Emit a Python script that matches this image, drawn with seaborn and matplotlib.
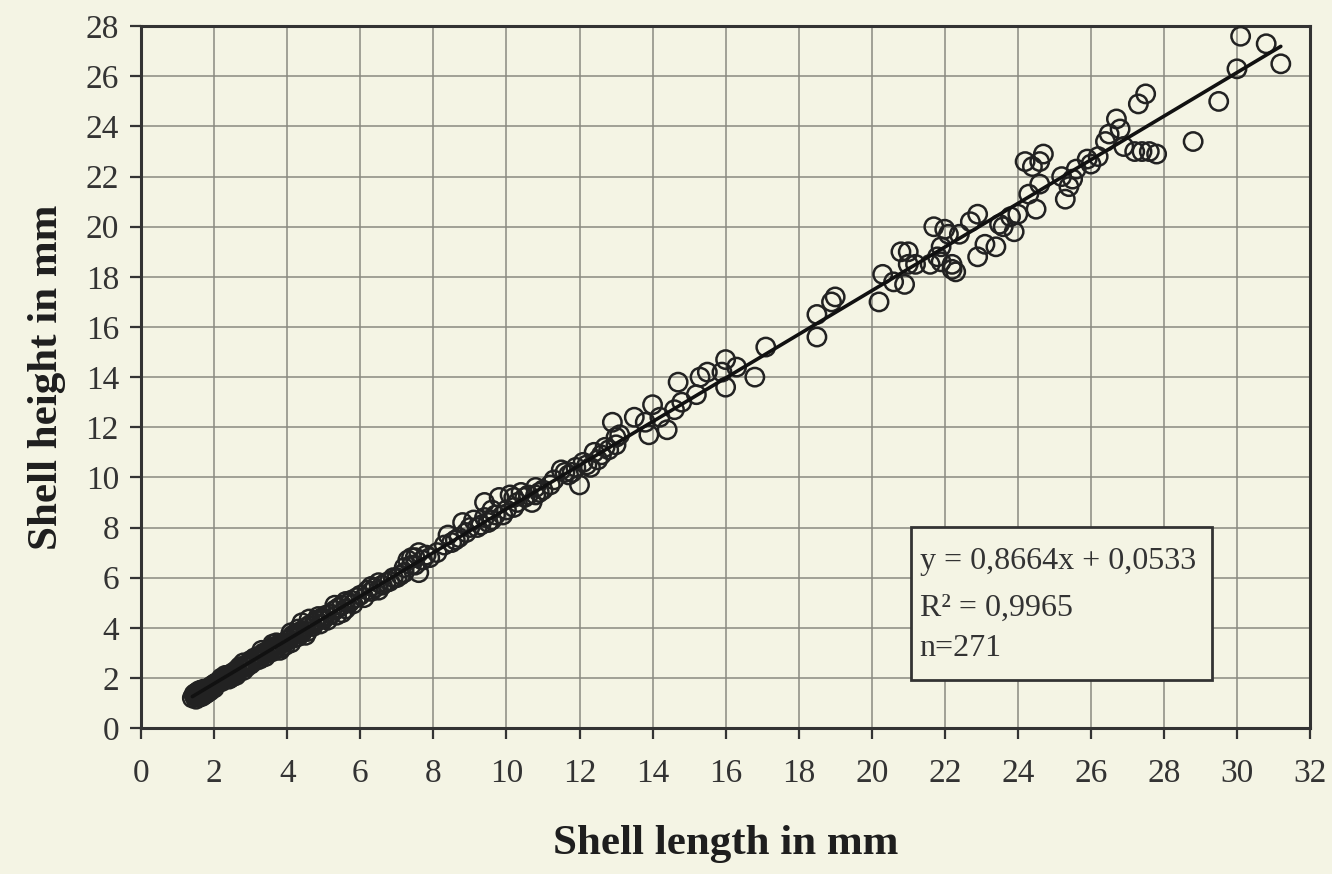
import numpy as np
import pandas as pd
import matplotlib
matplotlib.use("Agg")
import matplotlib.pyplot as plt
from matplotlib.patches import Rectangle
import seaborn as sns

# ---- data (shell length, shell height in mm) ----
length_mm = [
    # dense small shells
    1.40, 1.45, 1.50, 1.50, 1.55, 1.60, 1.60, 1.65, 1.70, 1.70, 1.75, 1.80, 1.80, 1.85, 1.90, 1.90,
    1.95, 2.00, 2.00, 2.05, 1.50, 1.55, 1.65, 1.75, 1.85, 1.45, 1.60, 1.70,
    2.10, 2.15, 2.20, 2.25, 2.30, 2.35, 2.40, 2.45, 2.50, 2.55, 2.60, 2.65, 2.70, 2.75, 2.80, 2.85,
    2.90, 2.95, 3.00, 2.20, 2.40, 2.60, 2.80, 3.00, 2.30, 2.50, 2.70,
    3.05, 3.10, 3.15, 3.20, 3.25, 3.30, 3.35, 3.40, 3.45, 3.50, 3.55, 3.60, 3.65, 3.70, 3.75, 3.80,
    3.85, 3.90, 3.95, 4.00, 3.30, 3.60, 3.80, 3.40, 3.70,
    4.05, 4.10, 4.15, 4.20, 4.25, 4.30, 4.35, 4.40, 4.50, 4.55, 4.60, 4.70, 4.75, 4.80, 4.90, 4.95,
    5.00, 4.40, 4.60, 4.30, 4.10, 4.50, 4.85,
    5.05, 5.10, 5.20, 5.30, 5.35, 5.40, 5.50, 5.60, 5.70, 5.75, 5.80, 5.90, 5.30, 5.50, 5.60,
    6.00, 6.10, 6.20, 6.30, 6.40, 6.50, 6.60, 6.70, 6.80, 6.90, 6.50, 6.30, 7.00,
    7.10, 7.20, 7.30, 7.40, 7.50, 7.60, 7.70, 7.80, 7.60, 7.40, 7.90, 7.50, 7.20,
    8.10, 8.30, 8.40, 8.50, 8.60, 8.70, 8.80, 8.90, 9.00, 9.10, 9.20, 9.30, 9.40, 9.50, 9.60,
    9.70, 9.80, 9.90, 10.00, 10.10, 10.20, 10.30, 10.40, 10.50, 10.60, 10.70, 10.80, 10.90,
    11.00, 11.20, 10.20, 10.80, 9.60, 9.40,
    11.30, 11.50, 11.60, 11.70, 11.80, 11.90, 12.00, 12.10, 12.20, 12.30, 12.40, 12.50, 12.60,
    12.70, 12.80, 12.90, 13.00, 13.00, 13.10,
    # mid-sized shells
    13.50, 13.80, 13.90, 14.00, 14.20, 14.40, 14.60, 14.70, 14.80, 15.20, 15.30, 15.50,
    15.90, 16.00, 16.00, 16.30, 16.80, 17.10,
    18.50, 18.50, 18.90, 19.00,
    20.20, 20.30, 20.60, 20.80, 20.90, 21.00, 21.00, 21.20,
    21.60, 21.70, 21.80, 21.90, 21.90, 22.00, 22.10, 22.20, 22.20, 22.30, 22.40,
    22.70, 22.90, 22.90, 23.10, 23.40, 23.50, 23.60, 23.80, 23.90, 24.00,
    24.20, 24.30, 24.40, 24.50, 24.60, 24.60, 24.70,
    25.20, 25.30, 25.40, 25.50, 25.60, 25.90, 26.00, 26.20, 26.40, 26.50, 26.70, 26.80, 26.90,
    27.20, 27.30, 27.40, 27.50, 27.60, 27.80,
    28.80, 29.50, 30.00, 30.10, 30.80, 31.20,
]
height_mm = [
    1.20, 1.30, 1.25, 1.40, 1.30, 1.35, 1.50, 1.40, 1.45, 1.30, 1.50, 1.55, 1.40, 1.60, 1.65, 1.50,
    1.70, 1.60, 1.75, 1.80, 1.15, 1.45, 1.25, 1.35, 1.45, 1.35, 1.25, 1.55,
    1.80, 1.90, 1.85, 2.00, 1.95, 2.05, 2.10, 2.00, 2.20, 2.15, 2.30, 2.25, 2.35, 2.40, 2.30, 2.50,
    2.45, 2.60, 2.55, 2.00, 1.95, 2.10, 2.60, 2.70, 2.10, 2.05, 2.45,
    2.65, 2.80, 2.70, 2.85, 2.75, 2.90, 3.00, 2.95, 3.05, 3.10, 3.20, 3.05, 3.25, 3.15, 3.30, 3.35,
    3.20, 3.40, 3.30, 3.50, 3.10, 3.35, 3.10, 2.85, 3.40,
    3.55, 3.40, 3.70, 3.60, 3.75, 3.65, 3.85, 3.80, 4.00, 3.85, 4.10, 4.05, 4.20, 4.30, 4.15, 4.40,
    4.35, 4.20, 4.35, 3.95, 3.80, 3.70, 4.45,
    4.50, 4.30, 4.55, 4.70, 4.50, 4.80, 4.90, 4.75, 5.00, 5.10, 4.95, 5.20, 4.90, 4.60, 5.05,
    5.30, 5.20, 5.50, 5.45, 5.60, 5.50, 5.70, 5.80, 5.85, 6.00, 5.80, 5.65, 6.00,
    6.10, 6.40, 6.70, 6.50, 6.80, 6.20, 6.70, 6.90, 7.00, 6.80, 6.80, 6.50, 6.20,
    7.00, 7.30, 7.70, 7.40, 7.50, 7.60, 8.20, 7.80, 8.00, 8.30, 8.00, 8.10, 9.00, 8.20, 8.70,
    8.50, 9.20, 8.50, 8.70, 9.30, 9.20, 9.00, 9.40, 9.20, 9.30, 9.00, 9.30, 9.40,
    9.50, 9.70, 8.80, 9.60, 8.30, 8.40,
    9.90, 10.30, 10.20, 10.10, 10.20, 10.40, 9.70, 10.60, 10.50, 10.40, 11.00, 10.70, 10.90,
    11.20, 11.10, 12.20, 11.60, 11.30, 11.70,
    12.40, 12.20, 11.70, 12.90, 12.40, 11.90, 12.70, 13.80, 13.00, 13.30, 14.00, 14.20,
    14.20, 14.70, 13.60, 14.40, 14.00, 15.20,
    16.50, 15.60, 17.00, 17.20,
    17.00, 18.10, 17.80, 19.00, 17.70, 19.00, 18.50, 18.50,
    18.50, 20.00, 18.80, 19.20, 18.60, 19.90, 19.70, 18.50, 18.30, 18.20, 19.70,
    20.20, 18.80, 20.50, 19.30, 19.20, 20.10, 20.00, 20.40, 19.80, 20.50,
    22.60, 21.30, 22.40, 20.70, 22.60, 21.70, 22.90,
    22.00, 21.10, 21.60, 21.90, 22.30, 22.70, 22.50, 22.80, 23.40, 23.70, 24.30, 23.90, 23.20,
    23.00, 24.90, 23.00, 25.30, 23.00, 22.90,
    23.40, 25.00, 26.30, 27.60, 27.30, 26.50,
]

df = pd.DataFrame({"length": length_mm, "height": height_mm})

BG = "#f4f4e4"
INK = "#222222"

sns.set_style("whitegrid", {
    "axes.facecolor": BG,
    "figure.facecolor": BG,
    "axes.edgecolor": "#333333",
    "grid.color": "#8a8a80",
    "axes.grid": True,
    "xtick.bottom": True,
    "ytick.left": True,
})
plt.rcParams["font.family"] = ["Liberation Serif", "DejaVu Serif"]

fig = plt.figure(figsize=(13.32, 8.74), dpi=100)
ax = fig.add_axes([0.106, 0.167, 0.8775, 0.803])

sns.scatterplot(data=df, x="length", y="height", ax=ax, marker="o", s=175,
                facecolors="none", edgecolor=INK, linewidth=1.8, zorder=3)
sns.regplot(data=df, x="length", y="height", ax=ax, scatter=False, ci=None,
            truncate=True, line_kws={"color": "#111111", "lw": 2.6, "zorder": 4})

ax.set_xlim(0, 32)
ax.set_ylim(0, 28)
ax.set_xticks(np.arange(0, 33, 2))
ax.set_yticks(np.arange(0, 29, 2))
ax.grid(True, color="#8a8a80", lw=1.1)
for sp in ax.spines.values():
    sp.set_linewidth(2.2)
    sp.set_color("#333333")
ax.tick_params(axis="both", which="major", direction="out", length=8, width=1.6,
               color="#333333", labelsize=24, labelcolor="#333333")
ax.tick_params(axis="x", pad=14)
ax.tick_params(axis="y", pad=8)

ax.set_xlabel("Shell length in mm", fontsize=31, fontweight="bold", color="#1e1e1e", labelpad=26)
ax.set_ylabel("Shell height in mm", fontsize=31, fontweight="bold", color="#1e1e1e", labelpad=14)

# annotation box
ax.add_patch(Rectangle((0.659, 0.068), 0.257, 0.218, transform=ax.transAxes,
                       facecolor=BG, edgecolor="#333333", lw=2.0, zorder=5))
ax.text(0.666, 0.237, "y = 0,8664x + 0,0533", transform=ax.transAxes, fontsize=23,
        color="#333333", va="center", ha="left", zorder=6)
ax.text(0.666, 0.171, "R² = 0,9965", transform=ax.transAxes, fontsize=23,
        color="#333333", va="center", ha="left", zorder=6)
ax.text(0.666, 0.114, "n=271", transform=ax.transAxes, fontsize=23,
        color="#333333", va="center", ha="left", zorder=6)

fig.savefig("out.png", dpi=100, facecolor=BG)
